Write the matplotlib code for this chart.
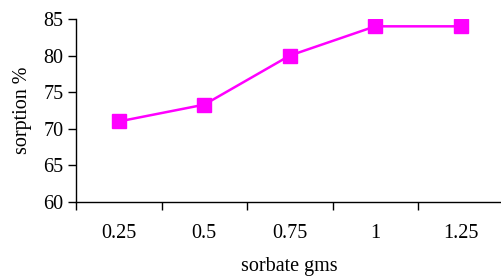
import matplotlib

matplotlib.use("Agg")
import matplotlib.pyplot as plt
import numpy as np

categories = ["0.25", "0.5", "0.75", "1", "1.25"]
sorption = [71.0, 73.3, 80.0, 84.0, 84.0]

plt.rcParams["font.family"] = ["Liberation Serif", "DejaVu Serif"]

fig = plt.figure(figsize=(5.02, 2.77), dpi=100)
ax = fig.add_axes([76 / 502, 75 / 277, 427.5 / 502, 183 / 277])

x = np.arange(len(categories)) + 0.5
ax.plot(x, sorption, color="#ff00ff", linewidth=1.8, marker="s",
        markersize=10.5, markerfacecolor="#ff00ff", markeredgecolor="#ff00ff")

ax.set_xlim(0, len(categories))
ax.set_ylim(60, 85)
ax.set_yticks(np.arange(60, 86, 5))

ax.set_xticks(np.arange(len(categories) + 1))
ax.set_xticklabels([])
ax.set_xticks(x, minor=True)
ax.set_xticklabels(categories, minor=True)
ax.tick_params(axis="x", which="major", direction="out", length=6, width=1)
ax.tick_params(axis="x", which="minor", length=0, pad=16, labelsize=14.5)
ax.tick_params(axis="y", direction="out", length=6, width=1, labelsize=14.5, pad=3)

for side in ("top", "right"):
    ax.spines[side].set_visible(False)
for side in ("left", "bottom"):
    ax.spines[side].set_linewidth(1)

ax.set_xlabel("sorbate gms", fontsize=14.5, labelpad=10)
ax.set_ylabel("sorption %", fontsize=14.5, labelpad=8)

fig.savefig("out.png", dpi=100)
